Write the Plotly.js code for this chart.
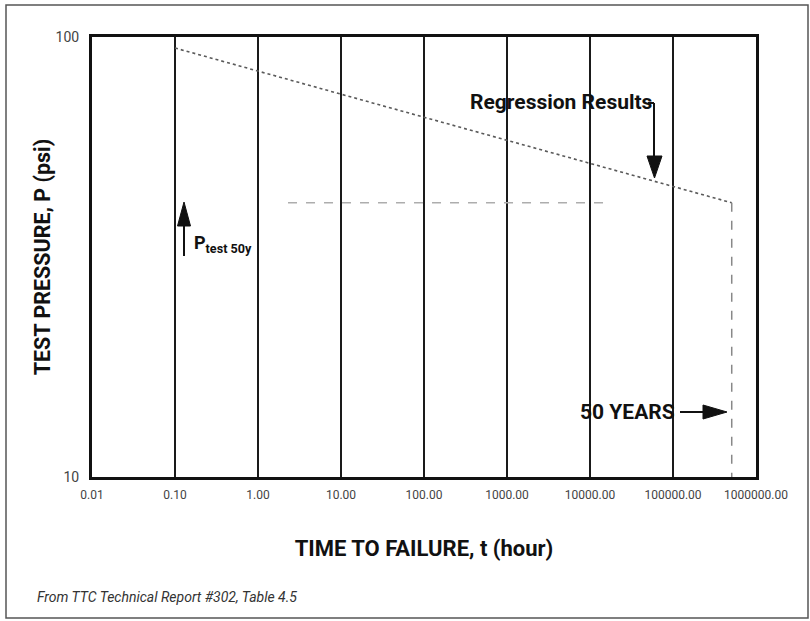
<!DOCTYPE html>
<html>
<head>
<meta charset="utf-8">
<script src="https://cdn.plot.ly/plotly-3.0.1.min.js"></script>
<style>html,body{margin:0;padding:0;background:#fff;}#chart{width:810px;height:621px;}</style>
</head>
<body>
<div id="chart"></div>
<script>
// Regression line (time to failure in hours, test pressure in psi)
const regTime = [0.1, 1, 10, 100, 1000, 10000, 100000, 510000];
const regPressure = [94.4, 83.7, 74.2, 65.8, 58.3, 51.7, 45.9, 42.0];
// P test 50y horizontal guide
const guideTime = [2.3, 14500];
const guidePressure = [42.0, 42.0];
// 50-year vertical guide
const yearsTime = [510000, 510000];
const yearsPressure = [42.0, 10];
// Axis ticks
const xTickVals = [0.01, 0.1, 1, 10, 100, 1000, 10000, 100000, 1000000];
const xTickText = ["0.01", "0.10", "1.00", "10.00", "100.00", "1000.00", "10000.00", "100000.00", "1000000.00"];
const yTickVals = [10, 100];
const yTickText = ["10", "100"];

const FONT = "Roboto, Liberation Sans, sans-serif";

// plot area: x 92..756 px, y 37..477 px -> paper coordinates for decorations
const PL = 92, PR = 756, PT = 37, PB = 477;
const px = v => (v - PL) / (PR - PL);
const py = v => (PB - v) / (PB - PT);
function seg(x0, y0, x1, y1) {
  return {type: 'line', xref: 'paper', yref: 'paper', x0: px(x0), y0: py(y0), x1: px(x1), y1: py(y1),
          line: {color: '#111', width: 2}};
}
function tri(pts) {
  const d = 'M' + pts.map(p => px(p[0]) + ',' + py(p[1])).join(' L') + ' Z';
  return {type: 'path', xref: 'paper', yref: 'paper', path: d, fillcolor: '#111', line: {color: '#111', width: 1}};
}

const traces = [
  {x: regTime, y: regPressure, type: 'scatter', mode: 'lines',
   line: {color: '#5a5a5a', width: 1.6, dash: 'dot'}, hoverinfo: 'skip', showlegend: false},
  {x: guideTime, y: guidePressure, type: 'scatter', mode: 'lines',
   line: {color: '#adadad', width: 1.5, dash: 'dash'}, hoverinfo: 'skip', showlegend: false},
  {x: yearsTime, y: yearsPressure, type: 'scatter', mode: 'lines',
   line: {color: '#888888', width: 1.5, dash: 'dash'}, hoverinfo: 'skip', showlegend: false}
];

const layout = {
  width: 810, height: 621,
  margin: {l: 92, r: 54, t: 37, b: 144},
  paper_bgcolor: '#ffffff', plot_bgcolor: '#ffffff',
  showlegend: false,
  font: {family: FONT, color: '#222'},
  xaxis: {
    type: 'log', range: [-2, 6],
    tickvals: xTickVals, ticktext: xTickText,
    tickfont: {family: FONT, size: 12, color: '#444'},
    ticks: '', ticklabelstandoff: 5,
    showgrid: true, gridcolor: '#1a1a1a', gridwidth: 2,
    showline: true, linecolor: '#111', linewidth: 3, mirror: true,
    zeroline: false,
    title: {text: '<b>TIME TO FAILURE, t (hour)</b>', font: {family: FONT, size: 22, color: '#111'}, standoff: 40}
  },
  yaxis: {
    type: 'log', range: [1, 2],
    tickvals: yTickVals, ticktext: yTickText,
    tickfont: {family: FONT, size: 14, color: '#444'},
    ticks: '', ticklabelstandoff: 7,
    showgrid: false,
    showline: true, linecolor: '#111', linewidth: 3, mirror: true,
    zeroline: false,
    title: {text: '<b>TEST PRESSURE, P (psi)</b>', font: {family: FONT, size: 21.5, color: '#111'}, standoff: 0}
  },
  shapes: [
    {type: 'rect', xref: 'paper', yref: 'paper', x0: px(6), x1: px(808), y0: py(618), y1: py(5),
     line: {color: '#555', width: 1.5}, fillcolor: 'rgba(0,0,0,0)', layer: 'below'},
    // Regression Results arrow
    seg(648, 103, 654, 103),
    seg(654, 103, 654, 158),
    tri([[647, 156], [662, 156], [654.5, 178]]),
    // P test 50y arrow
    seg(184, 256, 184, 222),
    tri([[177.5, 226], [190.5, 226], [184, 202]]),
    // 50 YEARS arrow
    seg(680, 412, 706, 412),
    tri([[703, 405], [703, 419], [727, 412]])
  ],
  annotations: [
    {xref: 'paper', yref: 'paper', x: px(561), y: py(102), xanchor: 'center', yanchor: 'middle',
     text: '<b>Regression Results</b>', showarrow: false, font: {family: FONT, size: 21, color: '#111'}},
    {xref: 'paper', yref: 'paper', x: px(192), y: py(244), xanchor: 'left', yanchor: 'middle',
     text: '<b>P<sub>test 50y</sub></b>', showarrow: false,
     font: {family: FONT, size: 18, color: '#111'}},
    {xref: 'paper', yref: 'paper', x: px(677), y: py(412), xanchor: 'right', yanchor: 'middle',
     text: '<b>50 YEARS</b>', showarrow: false, font: {family: FONT, size: 21, color: '#111'}},
    {xref: 'paper', yref: 'paper', x: px(35), y: py(597), xanchor: 'left', yanchor: 'middle',
     text: '<i>From TTC Technical Report #302, Table 4.5</i>', showarrow: false,
     font: {family: FONT, size: 14, color: '#333'}}
  ]
};

Plotly.newPlot('chart', traces, layout, {displayModeBar: false, staticPlot: true});
</script>
</body>
</html>
